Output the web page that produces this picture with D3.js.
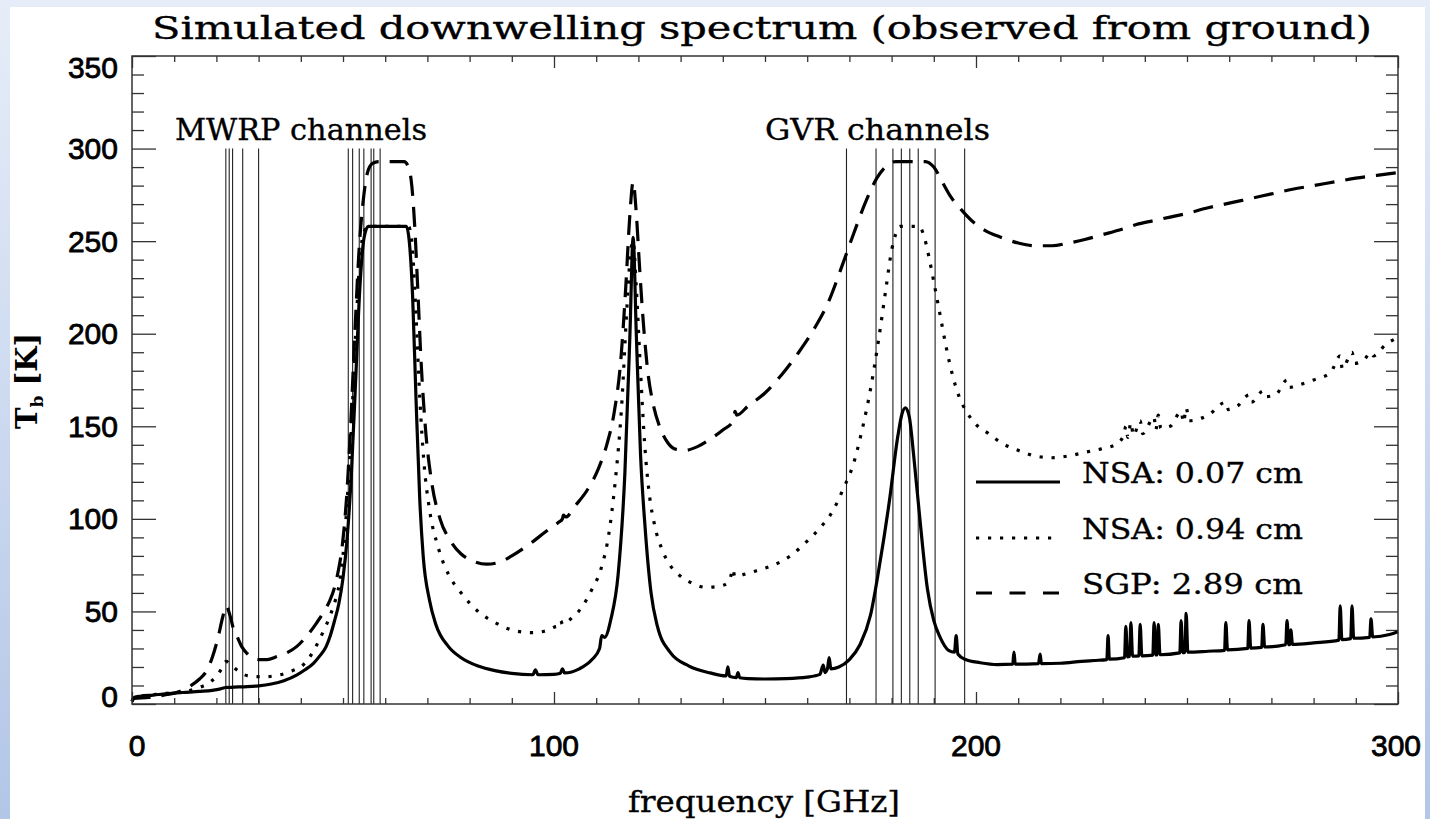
<!DOCTYPE html>
<html><head><meta charset="utf-8">
<script src="https://cdn.jsdelivr.net/npm/d3@7"></script>
<style>html,body{margin:0;padding:0;background:#fff;}svg{display:block;}</style>
</head><body>
<svg id="chart" width="1430" height="819"></svg>
<script>
// ---------------- data ----------------
const xTicksMajor = [0, 100, 200, 300];
const yTicksMajor = [0, 50, 100, 150, 200, 250, 300, 350];
const mwrpChannels = [22.235, 23.035, 23.835, 26.235, 30.0, 51.25, 52.28, 53.85, 54.94, 56.66, 57.29, 58.80];
const gvrChannels = [169.31, 176.31, 180.31, 182.31, 184.31, 186.31, 190.31, 197.31];
const legendLabels = ["NSA: 0.07 cm", "NSA: 0.94 cm", "SGP: 2.89 cm"];

// NSA: 0.07 cm (solid)  [frequency GHz, Tb K]
const nsa007 = [[0,1.5],[0.5,3.5],[2,4.2],[5,4.8],[8,5.5],[12,6.2],[16,6.8],[19,7.4],[21,8.2],[22.2,8.9],[23.5,9.0],[26,9.3],[30,9.8],[33,10.8],[36,12.6],[39,15.6],[41,18.5],[43,22],[44.5,26],[46,31],[47,37],[48,45],[49,54],[50,68],[51,90],[52,125],[53,175],[54,225],[55,252],[56,258],[65,258],[65.7,250],[66.5,220],[67.3,165],[68.2,110],[69,80],[70.5,56],[72,43],[75,31],[78,25],[82,20.5],[86,18],[90,16.5],[95,15.8],[95.6,18.5],[96.2,15.8],[100,16],[101.5,16.6],[102,19],[102.5,16.8],[106,19],[109,24],[110.8,30],[111.3,37],[112,36],[113.5,46],[115.2,70],[116.8,125],[118,200],[118.75,252],[119.5,200],[120.5,135],[121.6,95],[123,60],[124.5,42],[127.5,28],[132,20.5],[137,16.8],[140.8,15.2],[141.2,20],[141.6,15],[143.2,14.3],[143.6,17],[144,14.2],[146,13.7],[150,13.5],[155,13.7],[160,14.5],[163,16],[163.8,21],[164.2,17],[164.8,19],[165.2,25],[165.6,19],[167.5,20],[170,24],[172.5,32],[175,48],[177,73],[179.5,110],[181.5,145],[182.5,157],[183.3,160],[184.2,155],[185.2,135],[186.7,100],[188.5,62],[190,45],[191.5,36],[193.5,29],[194.9,28],[195.3,37],[195.7,27],[197.5,24],[201,22.3],[205,21.3],[208.7,21.5],[209,28],[209.3,21.5],[214.8,21.8],[215.2,27],[215.5,21.8],[220,22],[225,23],[228,23.5],[231,24],[231.3,37],[231.6,24.2],[235.2,25],[235.5,42],[235.9,25.4],[236.4,25.6],[236.7,44],[237.1,25.8],[238.6,26],[238.9,43],[239.3,26],[241.9,26.4],[242.2,44],[242.6,26.5],[242.9,26.5],[243.2,43],[243.6,26.6],[248.3,27.6],[248.6,45],[249,27.8],[249.5,27.9],[249.8,49],[250.2,28],[255,28.5],[258.9,29],[259.2,44],[259.6,29.2],[264.4,30],[264.7,45],[265.1,30.2],[267.7,30.6],[268,43],[268.4,30.8],[273.4,32],[273.7,45],[274.1,32],[274.35,32],[274.6,40],[275,32.2],[280,33],[286,34.5],[286.3,53],[286.7,34.8],[288.8,35.3],[289.1,53],[289.5,35.5],[293.3,36],[293.6,46],[294,36.2],[298,37.5],[300,39]];

// NSA: 0.94 cm (dotted)
const nsa094 = [[0,1.5],[0.5,3.5],[3,4.5],[7,5.5],[10,6.2],[13,7],[16,9],[18,11],[20,15],[21.5,20],[22.3,23],[23.2,21.5],[24.5,19],[26,16.5],[28,15],[31,14.7],[35,15.7],[38,18],[40,20],[42,25],[43.8,32],[45.5,40],[47,48],[48.3,57],[49.3,67],[50.2,85],[51,110],[52,150],[53,200],[54,240],[55,255],[56,258],[65.5,258],[66.3,250],[67.2,215],[68.2,165],[69.2,130],[70.5,105],[72.5,85],[75,70],[78,60],[82,50],[86,44],[90,40],[95,38.5],[98,39.5],[100,41.5],[101.3,42.5],[101.6,45],[102,43],[104,46],[106.5,52],[109,62],[111,72],[113,92],[114.5,120],[116,160],[117.3,215],[118.2,245],[118.75,250],[119.5,225],[120.5,180],[121.5,140],[122.5,115],[124,95],[125.5,84],[127.5,75],[130,69],[133,65],[136,63],[139,63.5],[141.5,66],[142,70],[142.4,73],[142.8,69],[145,70],[148,72],[152,75],[156,80],[160,88],[163,95],[166,104],[168.5,116],[171,130],[173,148],[175,170],[177,198],[178.7,225],[180,245],[181,254],[182,258],[186.5,258],[187.5,254],[188.8,242],[190,228],[191.5,210],[193,192],[194.5,177],[196,166],[198,157],[200,151],[203,146],[206,141],[210,137],[214,134],[218,133],[222,134],[226,136],[230,138],[233,140],[235,145],[235.5,150],[236,144],[236.7,152],[237.3,145],[238.9,153],[239.5,146],[242.2,155],[242.6,148],[243.2,156],[243.8,149],[246,150],[248.6,158],[249.2,152],[249.8,160],[250.5,153],[255,156],[259.2,163],[259.8,159],[262,161],[264.7,167],[265.3,163],[268,169],[268.6,166],[271,167],[273.7,175],[274.3,171],[276,172],[280,175],[284,179],[286.3,188],[286.8,181],[289.1,190],[289.7,184],[292,186],[293.6,190],[294.2,188],[297,194],[300,198]];

// SGP: 2.89 cm (dashed)
const sgp289 = [[0,1.5],[0.5,3],[4,3.5],[8,5],[11,6.5],[14,10],[16,13.5],[17.7,18],[19,25],[20.4,36],[21.5,47],[22.3,53],[23.2,48],[24,41],[24.8,37],[26,31],[27.2,27.5],[28.5,25],[30.3,24],[32,24],[34.3,25.6],[37,28],[39,31],[41.5,37],[43.8,44],[45.5,50],[46.9,56],[48,63],[48.8,71],[49.8,85],[50.8,110],[51.8,150],[52.8,200],[53.8,245],[54.8,272],[55.8,287],[57,292],[58.5,293],[64.5,293],[65.5,290],[66.3,280],[67,258],[67.7,225],[68.5,185],[69.5,150],[71,120],[73,100],[75.5,88],[78,81],[81,77],[84,75.5],[87,76.5],[90,80],[94,86],[98,93],[101,98],[102,100],[102.2,102],[102.8,101],[105,107],[108,116],[110.5,127],[112.5,140],[114.3,158],[115.8,185],[117,225],[118,265],[118.75,282],[119.5,265],[120.3,235],[121.2,205],[122.2,180],[123.5,162],[125,150],[127,141],[129,137.5],[131,137],[134,139],[137,143],[140,148],[142.5,153],[142.9,158],[143.3,156],[146,161],[150,168],[154,178],[158,190],[162,204],[165,217],[168,235],[171,254],[174,272],[176.5,284],[179,291],[181,293],[188,293],[190,290],[192,282],[194,274],[196.5,267],[199,261],[202,256],[206,252],[210,249],[214,247.5],[218,247.5],[222,249],[226,251],[230,253.5],[234,256],[238,259],[242,261],[246,263],[250,265],[255,268],[260,270.5],[265,273],[270,275.5],[275,278],[280,280],[285,282],[290,284],[295,285.5],[300,287]];

// ---------------- drawing ----------------
const svg = d3.select("#chart");
const W = 1430, H = 819;
const M = {left: 132, right: 1398, top: 56, bottom: 704};

const defs = svg.append("defs");
const grad = defs.append("linearGradient").attr("id", "bg").attr("x1", 0).attr("y1", 0).attr("x2", 0).attr("y2", 1);
grad.append("stop").attr("offset", "0%").attr("stop-color", "#e6edf8");
grad.append("stop").attr("offset", "100%").attr("stop-color", "#b3c6e7");
svg.append("rect").attr("width", W).attr("height", H).attr("fill", "url(#bg)");
svg.append("rect").attr("x", 10).attr("y", 7).attr("width", 1415).attr("height", H - 7).attr("fill", "#fff");

const x = d3.scaleLinear().domain([0, 300]).range([M.left, M.right]);
const y = d3.scaleLinear().domain([0, 350]).range([M.bottom, M.top]);

const serif = "'DejaVu Serif', 'Liberation Serif', serif";
const sans = "'Liberation Sans', Arial, sans-serif";

// axes with ticks on all four sides
const xMinor = d3.range(0, 301, 10).filter(v => v % 100 !== 0);
const yMinor = d3.range(0, 351, 10).filter(v => v % 50 !== 0);
const axisColor = "#333";

function addAxis(axis, tx, ty) {
  const g = svg.append("g").attr("transform", `translate(${tx},${ty})`).call(axis);
  g.select(".domain").remove();
  g.selectAll("text").remove();
  g.selectAll("line").attr("stroke", axisColor).attr("stroke-width", 1.3);
  return g;
}
addAxis(d3.axisTop(x).tickValues(xTicksMajor).tickSize(12), 0, M.bottom);
addAxis(d3.axisTop(x).tickValues(xMinor).tickSize(6), 0, M.bottom);
addAxis(d3.axisBottom(x).tickValues(xTicksMajor).tickSize(12), 0, M.top);
addAxis(d3.axisBottom(x).tickValues(xMinor).tickSize(6), 0, M.top);
addAxis(d3.axisRight(y).tickValues(yTicksMajor).tickSize(24), M.left, 0);
addAxis(d3.axisRight(y).tickValues(yMinor).tickSize(12), M.left, 0);
addAxis(d3.axisLeft(y).tickValues(yTicksMajor).tickSize(24), M.right, 0);
addAxis(d3.axisLeft(y).tickValues(yMinor).tickSize(12), M.right, 0);

// tick labels
const yLab = svg.append("g").attr("font-family", sans).attr("font-size", 30).attr("fill", "#000")
  .attr("stroke", "#000").attr("stroke-width", 0.8);
yLab.selectAll("text").data(yTicksMajor).join("text")
  .attr("x", 118).attr("text-anchor", "end")
  .attr("y", d => y(d) + 10.5 + (d === 0 ? -8 : 0) + (d === 350 ? 11 : 0))
  .text(d => d);
const xLab = svg.append("g").attr("font-family", sans).attr("font-size", 30).attr("fill", "#000")
  .attr("stroke", "#000").attr("stroke-width", 0.8);
xLab.selectAll("text").data(xTicksMajor).join("text")
  .attr("x", d => x(d) + (d === 0 ? 5 : 0) + (d === 300 ? -2 : 0)).attr("y", 756).attr("text-anchor", "middle")
  .text(d => d);

// channel lines (0 to 300 K)
const chanG = svg.append("g").attr("stroke", "#222").attr("stroke-width", 1.1);
chanG.selectAll("line").data(mwrpChannels.concat(gvrChannels)).join("line")
  .attr("x1", d => x(d)).attr("x2", d => x(d))
  .attr("y1", y(0)).attr("y2", y(300));

// curves
const line = d3.line().x(d => x(d[0])).y(d => y(d[1])).curve(d3.curveMonotoneX);
const curves = svg.append("g").attr("fill", "none").attr("stroke", "#000").attr("stroke-width", 3.2);
curves.append("path").attr("d", line(nsa094)).attr("stroke-dasharray", "3.2,8.8");
curves.append("path").attr("d", line(sgp289)).attr("stroke-dasharray", "20,11");
curves.append("path").attr("d", line(nsa007)).attr("stroke-linejoin", "round");

// frame
svg.append("rect").attr("x", M.left).attr("y", M.top).attr("width", M.right - M.left).attr("height", M.bottom - M.top)
  .attr("fill", "none").attr("stroke", axisColor).attr("stroke-width", 1.5);

// texts
function sText(str, xx, yy, size, len, anchor) {
  return svg.append("text").attr("x", xx).attr("y", yy).attr("font-family", serif).attr("font-size", size)
    .attr("text-anchor", anchor || "start").attr("textLength", len).attr("lengthAdjust", "spacingAndGlyphs")
    .attr("fill", "#000").attr("stroke", "#000").attr("stroke-width", 0.35).text(str);
}
sText("Simulated downwelling spectrum (observed from ground)", 152, 39, 32, 1220);
sText("MWRP channels", 175, 140, 30, 252);
sText("GVR channels", 765, 140, 30, 225);
sText("frequency [GHz]", 628, 812, 30, 272);

// y label
const yl = svg.append("text").attr("transform", "translate(37,381) rotate(-90)").attr("text-anchor", "middle")
  .attr("font-family", serif).attr("font-size", 29).attr("fill", "#000").attr("font-weight", "bold");
yl.append("tspan").text("T");
yl.append("tspan").attr("font-size", 17).attr("dy", 6).text("b");
yl.append("tspan").attr("dy", -6).text(" [K]");

// legend
const legY = [482, 538, 593];
const legDash = [null, "3.2,8.8", "16,17.5"];
legendLabels.forEach((lab, i) => {
  const l = svg.append("line").attr("x1", 976).attr("x2", 1060).attr("y1", legY[i]).attr("y2", legY[i])
    .attr("stroke", "#000").attr("stroke-width", 3);
  if (legDash[i]) l.attr("stroke-dasharray", legDash[i]);
  sText(lab, 1082, legY[i] + 1, 28, 221);
});
</script>
</body></html>
